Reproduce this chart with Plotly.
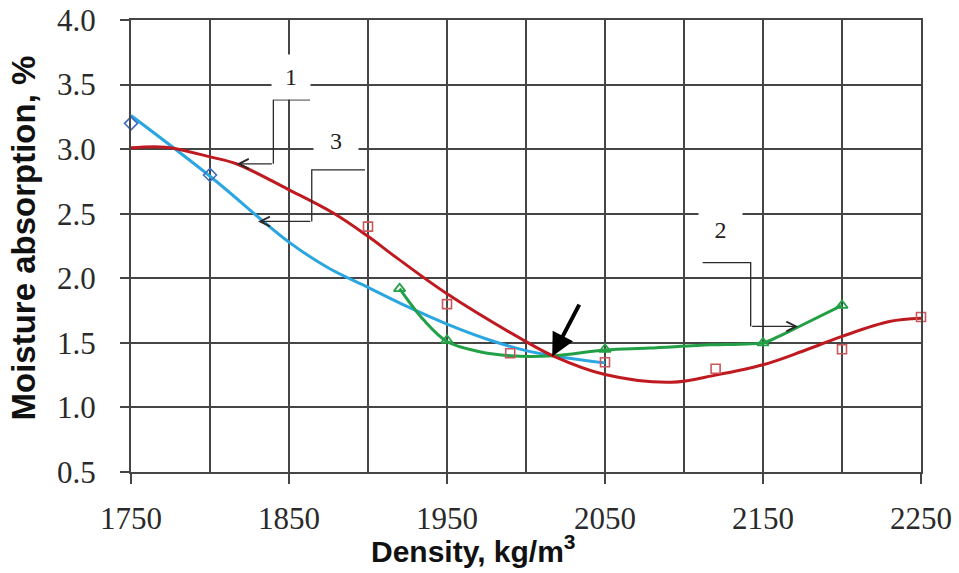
import plotly.graph_objects as go

# ---- measured points -------------------------------------------------------
# curve 1: squares
s1_density = [1900, 1950, 1990, 2050, 2120, 2200, 2250]
s1_absorption = [2.40, 1.80, 1.42, 1.35, 1.30, 1.45, 1.70]
# curve 2: triangles
s2_density = [1920, 1950, 2050, 2150, 2200]
s2_absorption = [1.92, 1.52, 1.45, 1.50, 1.79]
# curve 3: diamonds
s3_density = [1750, 1800]
s3_absorption = [3.20, 2.80]

# ---- smoothed curves -------------------------------------------------------
c1_density = [1750, 1772, 1800, 1817, 1850, 1878, 1900, 1918, 1950, 2000,
              2017, 2050, 2092, 2120, 2150, 2175, 2200, 2230, 2250]
c1_absorption = [3.01, 3.015, 2.94, 2.885, 2.685, 2.505, 2.325, 2.16, 1.88, 1.51,
                 1.40, 1.255, 1.195, 1.25, 1.33, 1.435, 1.55, 1.665, 1.69]

c2_density = [1920, 1935, 1950, 1970, 1990, 2017, 2050, 2078, 2117, 2135,
              2150, 2160, 2171, 2200]
c2_absorption = [1.92, 1.68, 1.51, 1.433, 1.40, 1.40, 1.445, 1.46, 1.485, 1.49,
                 1.50, 1.55, 1.615, 1.79]

c3_density = [1750, 1800, 1850, 1875, 1900, 1925, 1950, 1975, 2000, 2025, 2050]
c3_absorption = [3.26, 2.79, 2.28, 2.08, 1.93, 1.78, 1.645, 1.53, 1.44, 1.385, 1.345]

# ---- axes ------------------------------------------------------------------
x_range = [1750, 2250]
y_range = [0.5, 4.0]
x_title = "<b>Density, kg/m<sup>3</sup></b>"
y_title = "<b>Moisture absorption, %</b>"

# ---- curve labels and callouts (data coordinates) ---------------------------
label_text = ["1", "3", "2"]
label_x = [1851, 1880, 2123]
label_y = [3.555, 3.065, 2.375]
label_w = [38, 44, 43]
label_h = [44, 40, 50]

callout_paths = [
    # (x list, y list) of the bent leader; last segment carries the arrowhead
    ([1863.3, 1840.1, 1840.1, 1817.0], [3.382, 3.382, 2.886, 2.886]),
    ([1898.1, 1864.4, 1864.4, 1830.4], [2.840, 2.840, 2.440, 2.440]),
    ([2111.8, 2142.2, 2142.2, 2172.3], [2.122, 2.122, 1.627, 1.627]),
]

# thick black pointer to the crossing point
pointer_tail = (2034.2, 1.808)
pointer_tip = (2016.6, 1.395)

RED = "#BF1A1F"
BLUE = "#2BA6E1"
GREEN = "#22A046"
GRID = "#454545"
TEXT = "#222222"

fig = go.Figure()

fig.add_trace(go.Scatter(x=c3_density, y=c3_absorption, mode="lines",
                         line=dict(color=BLUE, width=3, shape="spline", smoothing=1),
                         hoverinfo="skip"))
fig.add_trace(go.Scatter(x=c2_density, y=c2_absorption, mode="lines",
                         line=dict(color=GREEN, width=3, shape="spline", smoothing=1),
                         hoverinfo="skip"))
fig.add_trace(go.Scatter(x=c1_density, y=c1_absorption, mode="lines",
                         line=dict(color=RED, width=3, shape="spline", smoothing=1),
                         hoverinfo="skip"))

fig.add_trace(go.Scatter(x=s3_density, y=s3_absorption, mode="markers", cliponaxis=False,
                         marker=dict(symbol="diamond-open", size=10,
                                     color="#3D6CC2", line=dict(width=1.6))))
fig.add_trace(go.Scatter(x=s1_density, y=s1_absorption, mode="markers", cliponaxis=False,
                         marker=dict(symbol="square-open", size=9,
                                     color="#C9575C", line=dict(width=1.6))))
fig.add_trace(go.Scatter(x=s2_density, y=s2_absorption, mode="markers", cliponaxis=False,
                         marker=dict(symbol="triangle-up-open", size=10,
                                     color=GREEN, line=dict(width=1.8))))

# leaders
for xs, ys in callout_paths:
    path = "M {} {}".format(xs[0], ys[0])
    for xv, yv in zip(xs[1:-1], ys[1:-1]):
        path += " L {} {}".format(xv, yv)
    fig.add_shape(type="path", path=path, xref="x", yref="y",
                  line=dict(color="#2a2a2a", width=1.3), layer="above")
    fig.add_annotation(x=xs[-1], y=ys[-1], ax=xs[-2], ay=ys[-2],
                       xref="x", yref="y", axref="x", ayref="y",
                       text="", showarrow=True, arrowhead=5, arrowsize=1.6,
                       arrowwidth=1.2, arrowcolor="#2a2a2a")

# labels with white boxes hiding the grid behind them
for t, xv, yv, w, h in zip(label_text, label_x, label_y, label_w, label_h):
    fig.add_annotation(x=xv, y=yv, xref="x", yref="y", text=t, showarrow=False,
                       width=w, height=h, bgcolor="white", borderpad=0,
                       font=dict(family="Liberation Serif, Times New Roman, serif",
                                 size=24, color=TEXT))

fig.add_annotation(x=pointer_tip[0], y=pointer_tip[1], ax=pointer_tail[0], ay=pointer_tail[1],
                   xref="x", yref="y", axref="x", ayref="y", text="", showarrow=True,
                   arrowhead=2, arrowsize=1.15, arrowwidth=4, arrowcolor="black")

# axis titles
fig.add_annotation(x=0.4335, y=-0.171, xref="paper", yref="paper", text=x_title,
                   showarrow=False, xanchor="center", yanchor="middle",
                   font=dict(family="Liberation Sans, Arial, sans-serif", size=30,
                             color="#111111"))
fig.add_annotation(x=-0.1367, y=0.5166, xref="paper", yref="paper", text=y_title,
                   showarrow=False, xanchor="center", yanchor="middle", textangle=-90,
                   font=dict(family="Liberation Sans, Arial, sans-serif", size=33,
                             color="#111111"))

tick_font = dict(family="Liberation Serif, Times New Roman, serif", size=31, color="#2a2a2a")

fig.update_layout(
    width=959, height=573,
    margin=dict(l=131, r=38, t=20, b=101),
    paper_bgcolor="white", plot_bgcolor="white",
    showlegend=False,
    xaxis=dict(
        range=x_range, tick0=1750, dtick=100, automargin=False,
        ticks="outside", ticklen=10, tickwidth=2, tickcolor=GRID,
        tickfont=tick_font, ticklabelstandoff=8,
        showgrid=True, gridcolor=GRID, gridwidth=2,
        minor=dict(dtick=50, showgrid=True, gridcolor=GRID, gridwidth=2, ticks=""),
        showline=True, linecolor=GRID, linewidth=2, mirror=True,
        zeroline=False,
    ),
    yaxis=dict(
        range=y_range, tick0=0.5, dtick=0.5, tickformat=".1f", automargin=False,
        ticks="outside", ticklen=9, tickwidth=2, tickcolor=GRID,
        tickfont=tick_font, ticklabelstandoff=18,
        showgrid=True, gridcolor=GRID, gridwidth=2,
        showline=True, linecolor=GRID, linewidth=2, mirror=True,
        zeroline=False,
    ),
)

fig.write_html("out.html")
